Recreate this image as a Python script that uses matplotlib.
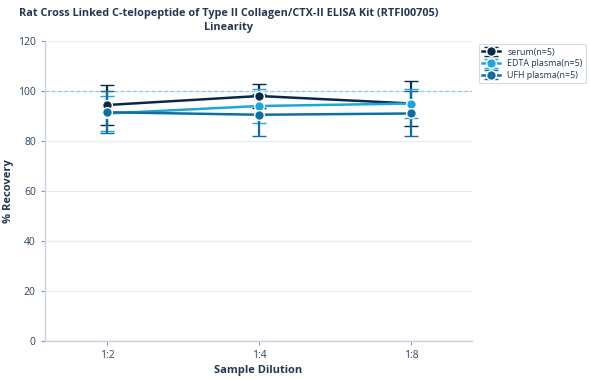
import numpy as np
import matplotlib
matplotlib.use("Agg")
import matplotlib.pyplot as plt

# ------------------------------------------------------------
# Data
# ------------------------------------------------------------

dilutions = ["1:2", "1:4", "1:8"]

serum = [94.4, 98.0, 95.0]
serum_err = [8.2, 4.8, 9.0]

edta = [91.0, 94.0, 95.0]
edta_err = [7.0, 7.0, 6.0]

ufh = [91.5, 90.5, 91.0]
ufh_err = [8.5, 8.5, 9.0]

series_names = ["serum(n=5)", "EDTA plasma(n=5)", "UFH plasma(n=5)"]
colors = ["#0b2847", "#1ea6da", "#136d9e"]

plt.rcParams["font.family"] = ["Open Sans", "DejaVu Sans"]

text_color = "#22384f"
spine_color = "#c9d3de"

fig = plt.figure(figsize=(5.9, 3.8), dpi=100)
ax = fig.add_axes([0.076, 0.103, 0.724, 0.789])

x = np.arange(len(dilutions))

for vals, errs, name, col in zip([serum, edta, ufh],
                                 [serum_err, edta_err, ufh_err],
                                 series_names, colors):
    ax.errorbar(x, vals, yerr=errs, color=col, lw=1.8,
                marker="o", ms=7, mfc=col, mec="white", mew=1.0,
                capsize=5, capthick=1.6, elinewidth=1.6,
                label=name, zorder=3)

ax.axhline(100, color="#8ccbe6", lw=0.9, ls=(0, (3, 2)), zorder=1)

ax.set_xlim(-0.41, 2.40)
ax.set_ylim(0, 120)
ax.set_yticks(np.arange(0, 121, 20))
ax.set_xticks(x)
ax.set_xticklabels(dilutions)

ax.grid(axis="y", color="#e8ecf1", lw=0.9)
ax.set_axisbelow(True)

for side in ["top", "right"]:
    ax.spines[side].set_visible(False)
for side in ["left", "bottom"]:
    ax.spines[side].set_color(spine_color)
    ax.spines[side].set_linewidth(1.0)

ax.tick_params(colors="#2a4560", labelsize=7.5, length=3, width=0.8)
ax.tick_params(axis="both", color="#8795a5")

ax.set_xlabel("Sample Dilution", fontsize=8, fontweight="bold",
              color=text_color, labelpad=3)
ax.set_ylabel("% Recovery", fontsize=8, fontweight="bold",
              color=text_color, labelpad=3)

fig.suptitle("Rat Cross Linked C-telopeptide of Type II Collagen/CTX-II ELISA Kit (RTFI00705)\nLinearity",
             x=0.388, y=0.978, fontsize=7.8, fontweight="bold",
             color=text_color, linespacing=1.3)

leg = ax.legend(loc="upper left", bbox_to_anchor=(1.005, 1.005),
                fontsize=6.4, frameon=True, borderpad=0.4,
                handlelength=2.0, labelspacing=0.3)
leg.get_frame().set_edgecolor("#c9d3de")
leg.get_frame().set_linewidth(0.8)
for t in leg.get_texts():
    t.set_color(text_color)

fig.savefig("out.png", dpi=100)
